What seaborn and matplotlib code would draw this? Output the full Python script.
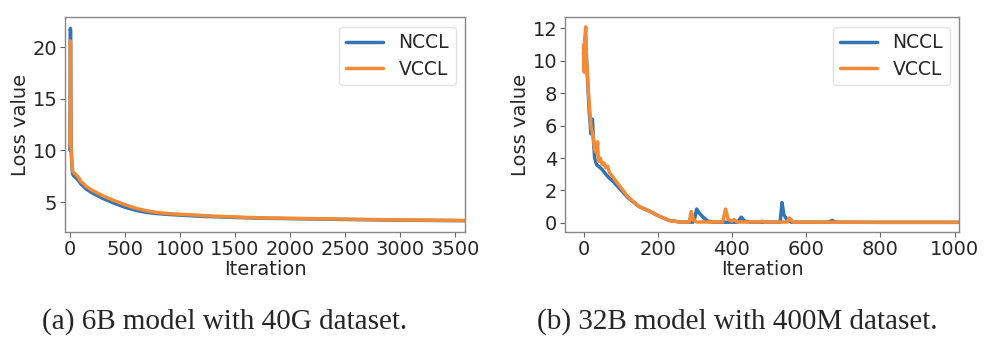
import pandas as pd
import matplotlib.pyplot as plt
import seaborn as sns

# (a) 6B model with 40G dataset
iter_a_nccl = [0, 2, 4, 6, 8, 10, 13, 16, 20, 25, 30, 40, 60, 80, 100, 150, 200, 300, 400,
               500, 600, 700, 800, 900, 1000, 1200, 1400, 1600, 1800, 2000, 2500, 3000, 3590]
loss_a_nccl = [10.0, 14.5, 21.8, 21.5, 16.0, 11.5, 10.0, 9.0, 8.2, 7.7, 7.6, 7.5, 7.3, 7.05, 6.75,
               6.25, 5.9, 5.35, 4.9, 4.5, 4.2, 4.0, 3.88, 3.8, 3.74, 3.62, 3.55, 3.48, 3.43, 3.4,
               3.32, 3.25, 3.2]
iter_a_vccl = [0, 2, 4, 6, 8, 10, 13, 16, 20, 25, 30, 40, 60, 80, 100, 150, 200, 300, 400,
               500, 600, 700, 800, 900, 1000, 1200, 1400, 1600, 1800, 2000, 2500, 3000, 3590]
loss_a_vccl = [10.5, 13.0, 20.6, 20.0, 14.0, 10.5, 9.5, 9.0, 8.5, 8.1, 7.9, 7.8, 7.6, 7.35, 7.0,
               6.5, 6.15, 5.6, 5.15, 4.75, 4.4, 4.15, 3.98, 3.88, 3.82, 3.7, 3.6, 3.52, 3.46, 3.43,
               3.35, 3.27, 3.22]

# (b) 32B model with 400M dataset
iter_b_nccl = [0, 2, 5, 8, 10, 15, 20, 24, 27, 30, 35, 40, 50, 60, 70, 80, 100, 120, 150, 180,
               200, 230, 260, 295, 300, 305, 312, 320, 335, 350, 415, 425, 435, 450, 530, 535,
               540, 548, 560, 660, 670, 680, 800, 1010]
loss_b_nccl = [10.5, 9.5, 11.5, 10.2, 9.2, 7.0, 5.5, 6.4, 5.0, 4.0, 3.6, 3.5, 3.3, 3.0, 2.75,
               2.55, 2.05, 1.55, 1.0, 0.7, 0.45, 0.15, 0.05, 0.04, 0.3, 0.85, 0.6, 0.4, 0.1, 0.04,
               0.04, 0.35, 0.1, 0.04, 0.04, 1.25, 0.5, 0.2, 0.04, 0.04, 0.15, 0.04, 0.03, 0.03]
iter_b_vccl = [0, 2, 4, 6, 8, 10, 12, 15, 20, 25, 30, 35, 38, 40, 45, 50, 55, 60, 65, 70, 80,
               100, 120, 150, 180, 200, 230, 260, 285, 290, 297, 305, 375, 383, 390, 400, 405,
               415, 475, 480, 490, 550, 555, 565, 800, 1010]
loss_b_vccl = [11.0, 9.3, 11.5, 12.1, 10.0, 9.5, 8.5, 7.5, 6.0, 5.5, 4.5, 4.3, 5.0, 3.8, 4.0,
               3.6, 3.7, 3.4, 3.5, 3.1, 2.8, 2.2, 1.6, 1.0, 0.7, 0.45, 0.15, 0.05, 0.05, 0.7,
               0.15, 0.05, 0.05, 0.85, 0.2, 0.1, 0.2, 0.05, 0.05, 0.1, 0.04, 0.05, 0.3, 0.04,
               0.03, 0.03]

captions = ["(a) 6B model with 40G dataset.", "(b) 32B model with 400M dataset."]


def long_df(it_n, loss_n, it_v, loss_v):
    a = pd.DataFrame({"Iteration": it_n, "Loss value": loss_n, "method": "NCCL"})
    b = pd.DataFrame({"Iteration": it_v, "Loss value": loss_v, "method": "VCCL"})
    return pd.concat([a, b], ignore_index=True)


sns.set_style("white")
plt.rcParams["font.family"] = ["DejaVu Sans"]

fig = plt.figure(figsize=(9.86, 3.5), dpi=100)
ax1 = fig.add_axes([0.0659, 0.337, 0.4057, 0.614])
ax2 = fig.add_axes([0.573, 0.337, 0.3996, 0.614])

palette = {"NCCL": "#3274b5", "VCCL": "#f58a34"}
dfa = long_df(iter_a_nccl, loss_a_nccl, iter_a_vccl, loss_a_vccl)
dfb = long_df(iter_b_nccl, loss_b_nccl, iter_b_vccl, loss_b_vccl)

fs = 14
for ax, df in [(ax1, dfa), (ax2, dfb)]:
    sns.lineplot(data=df, x="Iteration", y="Loss value", hue="method", palette=palette,
                 estimator=None, linewidth=2.5, ax=ax)
    ax.set_xlabel("Iteration", fontsize=fs, labelpad=1)
    ax.set_ylabel("Loss value", fontsize=fs, labelpad=2)
    ax.tick_params(labelsize=fs, left=True, bottom=True, length=3.5, color="#666666",
                   pad=2)
    for s in ax.spines.values():
        s.set_color("#888888")
        s.set_linewidth(1.0)
    leg = ax.legend(loc="upper right", fontsize=13.5, handlelength=2.0, borderpad=0.35,
                    labelspacing=0.4, handletextpad=0.8)
    leg.get_frame().set_edgecolor("#dddddd")

ax1.set_xlim(-45, 3590)
ax1.set_ylim(2.1, 22.9)
ax1.set_yticks([5, 10, 15, 20])
ax1.set_xticks(range(0, 3501, 500))

ax2.set_xlim(-50, 1012)
ax2.set_ylim(-0.57, 12.7)
ax2.set_yticks(range(0, 13, 2))
ax2.set_xticks(range(0, 1001, 200))

fig.text(225 / 986, 1 - 322 / 350, captions[0], ha="center", va="center",
         fontsize=21, family="Liberation Serif")
fig.text(737 / 986, 1 - 322 / 350, captions[1], ha="center", va="center",
         fontsize=21, family="Liberation Serif")

fig.savefig("out.png", dpi=100)
